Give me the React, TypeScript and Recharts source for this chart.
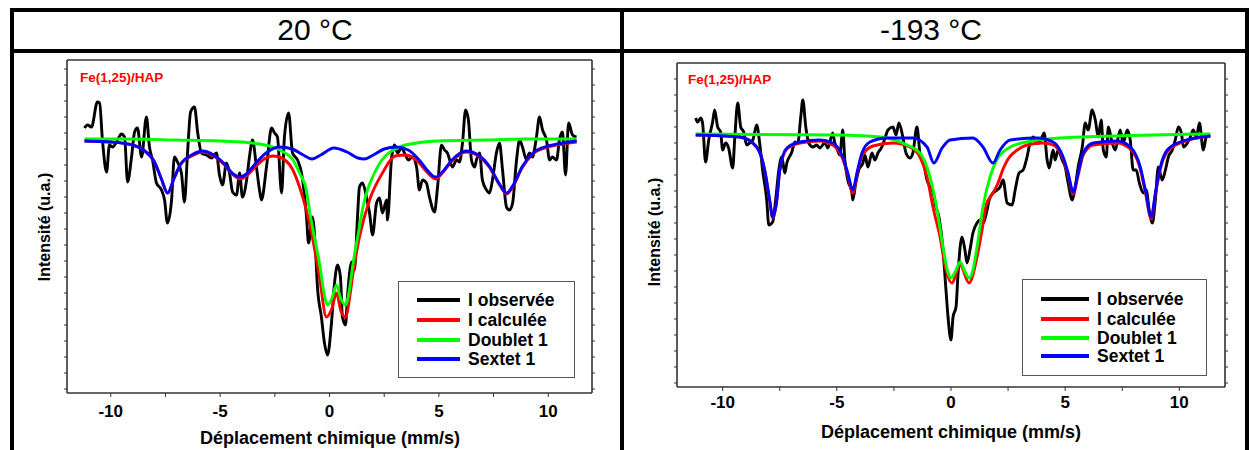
import React from "react";
import {Legend, Line, LineChart, XAxis, YAxis} from "recharts";

// Mössbauer spectra of Fe(1,25)/HAP, two temperatures.
const velTicks = [-10, -7.5, -5, -2.5, 0, 2.5, 5, 7.5, 10];
const velLabels = [-10, -5, 0, 5, 10];
const seriesNames = ["I observée", "I calculée", "Doublet 1", "Sextet 1"];
const seriesColors = ["#000000", "#ff0000", "#00ff00", "#0000ff"];

// ---- 20 °C ----
const obs20Vel = [
    -11.20, -11.06, -10.88, -10.61, -10.51, -10.38, -10.19, -10.06, -9.92, -9.69,
    -9.51, -9.37, -9.23, -9.05, -8.91, -8.78, -8.59, -8.37, -8.23, -8.09,
    -7.91, -7.68, -7.54, -7.41, -7.22, -7.09, -6.95, -6.77, -6.63, -6.49,
    -6.35, -6.17, -6.03, -5.85, -5.62, -5.39, -5.17, -5.03, -4.89, -4.71,
    -4.57, -4.43, -4.25, -4.11, -3.98, -3.79, -3.66, -3.52, -3.34, -3.20,
    -3.11, -2.88, -2.65, -2.51, -2.38, -2.19, -2.06, -1.87, -1.69, -1.46,
    -1.28, -1.05, -0.96, -0.78, -0.64, -0.55, -0.37, -0.23, -0.09, 0.09,
    0.23, 0.37, 0.50, 0.59, 0.73, 0.82, 1.01, 1.14, 1.28, 1.37,
    1.51, 1.69, 1.83, 1.97, 2.15, 2.29, 2.42, 2.61, 2.65, 2.83,
    2.97, 3.11, 3.29, 3.47, 3.61, 3.79, 3.98, 4.11, 4.25, 4.43,
    4.57, 4.80, 4.94, 5.12, 5.26, 5.39, 5.62, 5.81, 5.94, 6.08,
    6.22, 6.35, 6.49, 6.63, 6.72, 6.86, 6.99, 7.18, 7.31, 7.45,
    7.63, 7.77, 7.91, 8.09, 8.23, 8.37, 8.55, 8.69, 8.82, 9.01,
    9.14, 9.28, 9.46, 9.60, 9.74, 9.92, 10.06, 10.19, 10.38, 10.51,
    10.65, 10.79, 10.93, 11.11, 11.29,
];
const obs20Int = [
    1013, 1016, 1014, 1039, 1038, 1001, 969, 996, 994, 1001,
    1007, 1004, 959, 984, 1009, 1013, 984, 1024, 994, 981,
    958, 951, 941, 918, 941, 984, 979, 968, 939, 988,
    1029, 1034, 1009, 988, 986, 983, 988, 966, 956, 978,
    968, 949, 946, 968, 944, 961, 984, 1001, 974, 951,
    941, 974, 1013, 1008, 1004, 948, 1004, 1028, 988, 981,
    968, 924, 898, 924, 891, 854, 824, 798, 786, 818,
    858, 876, 864, 824, 816, 844, 879, 871, 924, 954,
    958, 944, 928, 906, 938, 943, 928, 941, 921, 981,
    996, 988, 993, 986, 981, 984, 974, 951, 961, 958,
    944, 929, 954, 996, 991, 988, 974, 981, 979, 998,
    1031, 1021, 981, 974, 981, 988, 961, 951, 948, 961,
    988, 998, 971, 934, 931, 938, 981, 1001, 994, 981,
    988, 984, 1004, 1024, 1011, 1001, 981, 984, 981, 1001,
    1009, 966, 1018, 1006, 1004,
];
const calc20Vel = [
    -11.2, -10, -9, -8.5, -8, -7.7, -7.4, -7.1, -6.8, -6.3,
    -5.8, -5.3, -4.8, -4.4, -4.1, -3.8, -3.4, -2.9, -2.6, -2.3,
    -1.7, -1.37, -1.05, -0.82, -0.46, -0.14, 0.1, 0.32, 0.52, 0.73,
    0.95, 1.05, 1.37, 1.83, 2.42, 3.0, 3.5, 4.1, 4.45, 4.85,
    5.2, 5.6, 6.25, 6.8, 7.3, 7.8, 8.1, 8.4, 8.8, 9.3,
    10, 10.7, 11.3,
];
const calc20Int = [
    1000, 999, 996, 991, 979, 963, 948, 963, 977, 985,
    989, 985, 976, 966, 962, 965, 974, 983, 985, 984,
    972, 954, 930, 908, 864, 824, 832, 848, 830, 824,
    848, 864, 904, 941, 968, 985, 986, 978, 969, 962,
    969, 980, 989, 985, 974, 955, 947, 955, 973, 987,
    994, 997, 999,
];
const doub20Vel = [
    -11.2, -9, -7, -5, -4, -3.2, -2.6, -2.1, -1.7, -1.37,
    -1.05, -0.91, -0.7, -0.46, -0.25, -0.1, 0.1, 0.32, 0.52, 0.73,
    0.9, 1.08, 1.32, 1.53, 1.75, 1.97, 2.3, 2.6, 3.2, 4,
    5, 7, 9, 11.3,
];
const doub20Int = [
    1002, 1002, 1001, 1000, 999, 997, 994, 989, 982, 968,
    950, 930, 905, 878, 848, 836, 842, 856, 842, 836,
    850, 878, 908, 934, 952, 964, 978, 986, 994, 998,
    1000, 1001, 1002, 1002,
];
const sext20Vel = [
    -11.2, -10, -9, -8.5, -8, -7.7, -7.4, -7.1, -6.8, -6.3,
    -5.8, -5.3, -4.8, -4.4, -4.1, -3.8, -3.4, -2.9, -2.3, -1.7,
    -1.2, -0.8, -0.4, 0.2, 0.8, 1.3, 1.6, 2.0, 2.5, 3.05,
    3.6, 4.1, 4.5, 4.85, 5.2, 5.6, 6.25, 6.8, 7.3, 7.8,
    8.1, 8.4, 8.8, 9.3, 10, 10.7, 11.3,
];
const sext20Int = [
    1000, 999, 996, 991, 979, 963, 948, 963, 977, 986,
    990, 986, 977, 967, 964, 967, 977, 988, 994, 992,
    986, 982, 986, 993, 989, 983, 982, 986, 992, 994,
    991, 981, 970, 964, 970, 981, 990, 986, 975, 956,
    948, 956, 974, 988, 995, 998, 1000,
];
const yTicks20 = [
    752, 768, 784, 800, 816, 832, 848, 864, 880, 896, 912,
    928, 944, 960, 976, 992, 1008, 1024, 1040, 1056, 1072,
];

// ---- -193 °C ----
const obsLowVel = [
    -11.18, -11.10, -10.96, -10.88, -10.75, -10.61, -10.44, -10.35, -10.22, -10.09,
    -10.00, -9.87, -9.74, -9.56, -9.47, -9.34, -9.21, -9.08, -8.95, -8.82,
    -8.68, -8.51, -8.38, -8.25, -8.07, -7.98, -7.81, -7.68, -7.54, -7.41,
    -7.28, -7.19, -6.97, -6.84, -6.71, -6.58, -6.49, -6.36, -6.23, -6.05,
    -5.88, -5.75, -5.53, -5.39, -5.18, -5.09, -5.00, -4.87, -4.74, -4.65,
    -4.52, -4.34, -4.30, -4.17, -4.04, -3.86, -3.77, -3.64, -3.46, -3.33,
    -3.20, -3.03, -2.89, -2.76, -2.54, -2.41, -2.28, -2.11, -1.97, -1.80,
    -1.67, -1.49, -1.36, -1.23, -1.05, -0.92, -0.79, -0.66, -0.53, -0.35,
    -0.22, -0.13, 0.00, 0.09, 0.22, 0.31, 0.48, 0.61, 0.70, 0.83,
    0.96, 1.14, 1.27, 1.40, 1.58, 1.67, 1.84, 2.02, 2.15, 2.28,
    2.46, 2.68, 2.81, 2.98, 3.16, 3.33, 3.46, 3.60, 3.82, 3.99,
    4.08, 4.21, 4.30, 4.47, 4.56, 4.69, 4.87, 5.00, 5.13, 5.31,
    5.44, 5.57, 5.75, 5.88, 6.01, 6.18, 6.32, 6.45, 6.58, 6.67,
    6.80, 6.89, 7.06, 7.19, 7.41, 7.54, 7.72, 7.85, 7.98, 8.11,
    8.25, 8.42, 8.55, 8.68, 8.82, 8.95, 9.08, 9.25, 9.39, 9.52,
    9.69, 9.82, 9.96, 10.09, 10.18, 10.35, 10.48, 10.61, 10.75, 10.88,
    11.05, 11.18, 11.32,
];
const obsLowInt = [
    1015, 1011, 1015, 1010, 971, 993, 1011, 1023, 1006, 1001,
    983, 990, 985, 965, 995, 1030, 1006, 1001, 988, 990,
    993, 1008, 990, 963, 933, 908, 911, 933, 963, 976,
    960, 970, 981, 991, 990, 1016, 1033, 1006, 990, 986,
    988, 985, 990, 985, 1000, 990, 985, 978, 1003, 973,
    953, 940, 933, 950, 963, 970, 978, 966, 980, 973,
    980, 986, 995, 1003, 1006, 998, 1010, 996, 980, 975,
    980, 1006, 980, 973, 953, 946, 941, 926, 916, 883,
    843, 816, 793, 816, 826, 860, 896, 883, 870, 883,
    900, 910, 913, 910, 923, 933, 940, 943, 946, 953,
    930, 928, 943, 960, 963, 976, 990, 996, 990, 996,
    1000, 973, 965, 983, 973, 983, 973, 966, 950, 933,
    946, 966, 986, 1010, 1003, 1023, 1013, 996, 1013, 983,
    976, 1006, 990, 983, 1003, 990, 1003, 993, 963, 963,
    950, 940, 943, 923, 910, 933, 966, 953, 963, 976,
    983, 993, 1006, 1000, 986, 990, 996, 1003, 996, 1010,
    983, 996, 998,
];
const calcLowVel = [
    -11.18, -9.25, -8.51, -8.16, -7.94, -7.81, -7.63, -7.5, -7.19, -6.62,
    -5.75, -5.18, -4.74, -4.52, -4.3, -4.12, -3.9, -3.42, -2.54, -1.8,
    -1.36, -1.05, -0.79, -0.48, -0.22, 0.04, 0.4, 0.79, 1.14, 1.36,
    1.54, 1.84, 2.06, 2.28, 2.5, 2.9, 3.33, 4.04, 4.47, 4.91,
    5.13, 5.35, 5.57, 5.79, 6.23, 7.28, 7.85, 8.29, 8.51, 8.77,
    8.95, 9.17, 9.47, 10.04, 11.36,
];
const calcLowInt = [
    998, 996, 986, 963, 932, 915, 932, 962, 984, 990,
    992, 988, 974, 958, 940, 958, 977, 987, 990, 986,
    976, 956, 926, 896, 863, 850, 868, 850, 876, 903,
    928, 940, 950, 964, 974, 983, 988, 990, 988, 974,
    958, 939, 958, 978, 988, 990, 984, 964, 941, 914,
    938, 964, 981, 990, 997,
];
const doubLowVel = [
    -11.18, -5, -3.1, -1.93, -1.36, -0.92, -0.61, -0.35, -0.15, 0,
    0.2, 0.4, 0.6, 0.79, 0.95, 1.14, 1.4, 1.71, 2, 2.6,
    3.3, 4.8, 11.36,
];
const doubLowInt = [
    999, 998, 996, 988, 980, 956, 923, 886, 862, 855,
    862, 871, 862, 855, 862, 886, 926, 956, 973, 986,
    991, 995, 999,
];
const sextLowVel = [
    -11.18, -9.25, -8.51, -8.16, -7.94, -7.81, -7.63, -7.5, -7.19, -6.62,
    -5.75, -5.18, -4.74, -4.52, -4.3, -4.12, -3.9, -3.55, -2.81, -1.67,
    -1.05, -0.75, -0.39, -0.04, 0.96, 1.4, 1.84, 2.15, 2.59, 3.77,
    4.47, 4.91, 5.13, 5.35, 5.57, 5.79, 6.23, 7.28, 7.85, 8.29,
    8.51, 8.77, 8.95, 9.17, 9.47, 10.04, 11.36,
];
const sextLowInt = [
    998, 996, 986, 963, 933, 916, 933, 963, 985, 991,
    993, 990, 976, 960, 943, 960, 980, 991, 995, 995,
    986, 970, 985, 993, 995, 986, 970, 983, 993, 995,
    991, 976, 960, 941, 960, 980, 990, 992, 986, 966,
    943, 916, 940, 966, 983, 991, 997,
];
const yTicksLow = [
    750, 766, 782, 798, 814, 830, 846, 862, 878, 894, 910,
    926, 942, 958, 974, 990, 1006, 1022, 1038, 1054,
];

const zip = (vel: number[], ints: number[]) => vel.map((v, k) => ({v, i: ints[k]}));

const FONT = "'Liberation Sans', Arial, sans-serif";
const AXIS = "#333";

interface Box {
    left: number;
    top: number;
    width: number;
    height: number;
}

interface Props {
    left: number;
    width: number;
    margin: { top: number; right: number; bottom: number; left: number };
    yDomain: [number, number];
    yTicks: number[];
    series: number[][][];
    legend: Box;
    rowTops: number[];
    sample: number;
    tickMargin: number;
}

function Spectrum({left, width, margin, yDomain, yTicks, series, legend, rowTops, sample, tickMargin}: Props) {
    const renderLegend = () => (
        <div style={{
            position: "relative", width: legend.width, height: legend.height, boxSizing: "border-box",
            border: "1.3px solid #555", background: "#fff", fontFamily: FONT, fontWeight: "bold", fontSize: 17.5,
        }}>
            {seriesNames.map((n, k) => (
                <div key={n} style={{position: "absolute", left: 18, top: rowTops[k] - 10, height: 20, display: "flex", alignItems: "center"}}>
                    <span style={{display: "inline-block", width: sample, height: 3.5, background: seriesColors[k]}}/>
                    <span style={{marginLeft: 8, color: "#000", whiteSpace: "nowrap"}}>{n}</span>
                </div>
            ))}
        </div>
    );
    // axes take a few px each, margins are the plot frame minus those
    const m = {top: margin.top - 5, right: margin.right - 5, bottom: margin.bottom - 30, left: margin.left - 5};
    return (
        <div style={{position: "absolute", left, top: 0}}>
            <LineChart width={width} height={450} margin={m}>
                <XAxis dataKey="v" type="number" domain={[-12, 12]} ticks={velTicks} allowDataOverflow
                       height={30} tickSize={4} tickMargin={tickMargin} interval={0}
                       axisLine={{stroke: AXIS, strokeWidth: 1.6}} tickLine={{stroke: AXIS}}
                       tick={{fill: "#000", fontSize: 17, fontWeight: "bold", fontFamily: FONT}}
                       tickFormatter={(v: number) => (velLabels.includes(v) ? String(v) : "")}/>
                <XAxis xAxisId="t" orientation="top" type="number" domain={[-12, 12]} ticks={velTicks} interval={0}
                       height={5} tickSize={3} axisLine={{stroke: AXIS, strokeWidth: 1.6}} tickLine={{stroke: AXIS}}
                       tickFormatter={() => ""}/>
                <YAxis type="number" domain={yDomain} ticks={yTicks} allowDataOverflow width={5} tickSize={3} interval={0}
                       axisLine={{stroke: AXIS, strokeWidth: 1.6}} tickLine={{stroke: AXIS}} tickFormatter={() => ""}/>
                <YAxis yAxisId="r" orientation="right" type="number" domain={yDomain} ticks={yTicks} allowDataOverflow
                       width={5} tickSize={3} interval={0} axisLine={{stroke: AXIS, strokeWidth: 1.6}} tickLine={{stroke: AXIS}}
                       tickFormatter={() => ""}/>
                <Legend layout="horizontal" verticalAlign="middle" align="center" content={renderLegend}
                        wrapperStyle={{left: legend.left, top: legend.top, width: legend.width, height: legend.height}}/>
                {series.map(([vel, ints], k) => (
                    <Line key={seriesNames[k]} name={seriesNames[k]} data={zip(vel, ints)} dataKey="i"
                          type="monotone" stroke={seriesColors[k]} strokeWidth={2.9} dot={false}
                          isAnimationActive={false}/>
                ))}
            </LineChart>
        </div>
    );
}

const textStyle: React.CSSProperties = {position: "absolute", fontFamily: FONT, whiteSpace: "nowrap"};

export default function App() {
    return (
        <div style={{position: "absolute", left: 0, top: 0, width: 1249, height: 450, background: "#fff", overflow: "hidden"}}>
            <Spectrum left={0} width={620}
                      margin={{top: 60, right: 28, bottom: 57, left: 67}}
                      yDomain={[748, 1081]} yTicks={yTicks20}
                      series={[[obs20Vel, obs20Int], [calc20Vel, calc20Int], [doub20Vel, doub20Int], [sext20Vel, sext20Int]]}
                      legend={{left: 398, top: 281, width: 177, height: 97}} rowTops={[18, 38, 58, 77]} sample={43}
                      tickMargin={8}/>
            <Spectrum left={620} width={629}
                      margin={{top: 63, right: 24, bottom: 63, left: 57}}
                      yDomain={[746, 1070]} yTicks={yTicksLow}
                      series={[[obsLowVel, obsLowInt], [calcLowVel, calcLowInt], [doubLowVel, doubLowInt], [sextLowVel, sextLowInt]]}
                      legend={{left: 402, top: 279, width: 185, height: 97}} rowTops={[19, 39, 58, 76]} sample={48}
                      tickMargin={5}/>

            {/* table borders */}
            <div style={{position: "absolute", left: 10, top: 8, width: 1239, height: 4, background: "#000"}}/>
            <div style={{position: "absolute", left: 10, top: 49, width: 1239, height: 4, background: "#000"}}/>
            <div style={{position: "absolute", left: 10, top: 8, width: 4, height: 442, background: "#000"}}/>
            <div style={{position: "absolute", left: 620, top: 8, width: 4, height: 442, background: "#000"}}/>
            <div style={{position: "absolute", left: 1245, top: 8, width: 4, height: 442, background: "#000"}}/>

            <div style={{...textStyle, left: 315, top: 30, fontSize: 30, transform: "translate(-50%, -50%)"}}>20 °C</div>
            <div style={{...textStyle, left: 931, top: 30, fontSize: 30, transform: "translate(-50%, -50%)"}}>-193 °C</div>

            <div style={{...textStyle, left: 80, top: 77, fontSize: 13.5, fontWeight: "bold", color: "#ff0000", transform: "translateY(-50%)"}}>Fe(1,25)/HAP</div>
            <div style={{...textStyle, left: 688, top: 79, fontSize: 13.5, fontWeight: "bold", color: "#ff0000", transform: "translateY(-50%)"}}>Fe(1,25)/HAP</div>

            <div style={{...textStyle, left: 45, top: 227, fontSize: 16, fontWeight: "bold", transform: "translate(-50%, -50%) rotate(-90deg)"}}>Intensité (u.a.)</div>
            <div style={{...textStyle, left: 655, top: 232, fontSize: 16, fontWeight: "bold", transform: "translate(-50%, -50%) rotate(-90deg)"}}>Intensité (u.a.)</div>

            <div style={{...textStyle, left: 330, top: 438, fontSize: 18, fontWeight: "bold", transform: "translate(-50%, -50%)"}}>Déplacement chimique (mm/s)</div>
            <div style={{...textStyle, left: 951, top: 432, fontSize: 18, fontWeight: "bold", transform: "translate(-50%, -50%)"}}>Déplacement chimique (mm/s)</div>
        </div>
    );
}
